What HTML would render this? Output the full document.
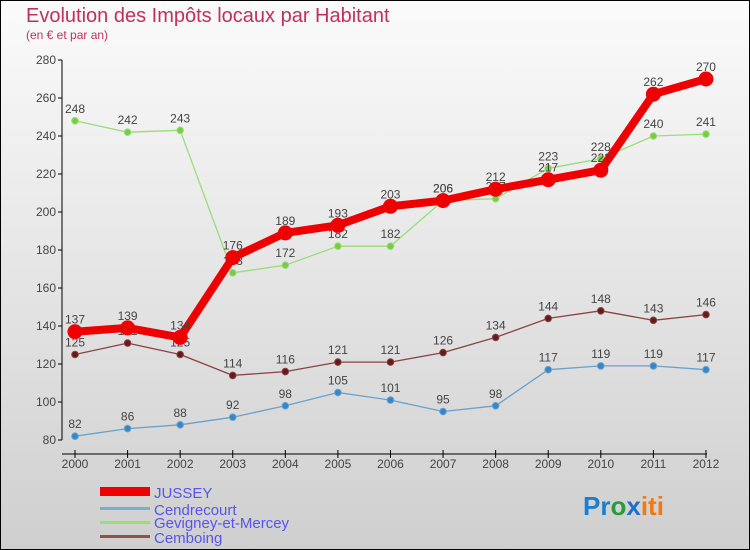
<!DOCTYPE html>
<html><head><meta charset="utf-8"><style>
body{margin:0}
#wrap{width:750px;height:550px;position:relative;box-sizing:border-box;border:1px solid #000;background:linear-gradient(#fbfbfb,#cfcfcf);font-family:"Liberation Sans",sans-serif;overflow:hidden}
</style></head><body>
<div id="wrap">
<svg id="svg" width="750" height="550" style="position:absolute;left:-1px;top:-1px">
<text x="26" y="22" font-size="20" fill="#c0305f">Evolution des Impôts locaux par Habitant</text>
<text x="26" y="39" font-size="12" fill="#c0305f">(en € et par an)</text>
<g id="axes"></g><g id="series"></g>
<g>
<rect x="100" y="487" width="50" height="9" fill="#e00"/>
<text x="154" y="498" font-size="15" fill="#5555ee">JUSSEY</text>
<rect x="100" y="507" width="50" height="3" fill="#7aaed0"/>
<text x="154" y="515" font-size="15" fill="#5555ee">Cendrecourt</text>
<rect x="100" y="521" width="50" height="3" fill="#99dd77"/>
<text x="154" y="528" font-size="15" fill="#5555ee">Gevigney-et-Mercey</text>
<rect x="100" y="535" width="50" height="3" fill="#885555"/>
<text x="154" y="543" font-size="15" fill="#5555ee">Cemboing</text>
</g>
<text x="583" y="515" font-size="26" font-weight="bold"><tspan fill="#1a7fd0">Pr</tspan><tspan fill="#2a9a3a">o</tspan><tspan fill="#1a6fd0">x</tspan><tspan fill="#f07a10">iti</tspan></text>
</svg>
</div>
<script>
const years=[2000,2001,2002,2003,2004,2005,2006,2007,2008,2009,2010,2011,2012];
const yTicks=[80,100,120,140,160,180,200,220,240,260,280];
const jussey=[137,139,134,176,189,193,203,206,212,217,222,262,270];
const cendrecourt=[82,86,88,92,98,105,101,95,98,117,119,119,117];
const gevigney=[248,242,243,168,172,182,182,206,207,223,228,240,241];
const cemboing=[125,131,125,114,116,121,121,126,134,144,148,143,146];
const NS="http://www.w3.org/2000/svg";
const X=i=>75+i*52.58, Y=v=>440-(v-80)*1.9;
function mk(t,a,p){const e=document.createElementNS(NS,t);for(const k in a)e.setAttribute(k,a[k]);p.appendChild(e);return e;}
const ax=document.getElementById('axes');
let l=mk('line',{x1:62,y1:454,x2:707,y2:454,stroke:'#000','stroke-width':1},ax);


l=mk('line',{x1:62,y1:60,x2:62,y2:440,stroke:'#000','stroke-width':1},ax);


yTicks.forEach(v=>{mk('line',{x1:58,y1:Y(v),x2:62,y2:Y(v),stroke:'#000'},ax);
 const t=mk('text',{x:56,y:Y(v)+4,'font-size':12,fill:'#444','text-anchor':'end'},ax);t.textContent=v;
 
 });
years.forEach((y,i)=>{mk('line',{x1:X(i),y1:450,x2:X(i),y2:458,stroke:'#000'},ax);
 const t=mk('text',{x:X(i),y:468,'font-size':12,fill:'#444','text-anchor':'middle'},ax);t.textContent=y;
 
 });
const sg=document.getElementById('series');
function series(d,name,col,w,r,dot){
 const g=mk('g',{},sg);
 
 
 mk('polyline',{points:d.map((v,i)=>X(i)+','+Y(v)).join(' '),fill:'none',stroke:col,'stroke-width':w,'stroke-linejoin':'round'},g);
 d.forEach((v,i)=>{const c=mk('circle',{cx:X(i),cy:Y(v),r:r,fill:dot,stroke:col,'stroke-width':1},g);
  
  
  const t=mk('text',{x:X(i),y:Y(v)-8,'font-size':12,fill:'#444','text-anchor':'middle'},g);t.textContent=v;
  
  });
}
series(cendrecourt,'cendrecourt','#6aa0cc',1.3,3.3,'#3388cc');
series(cemboing,'cemboing','#884444',1.3,3.3,'#661a1a');
series(gevigney,'gevigney','#99dd77',1.3,3.3,'#77cc44');
series(jussey,'jussey','#ee0000',8,7,'#ee0000');
</script>
</body></html>
